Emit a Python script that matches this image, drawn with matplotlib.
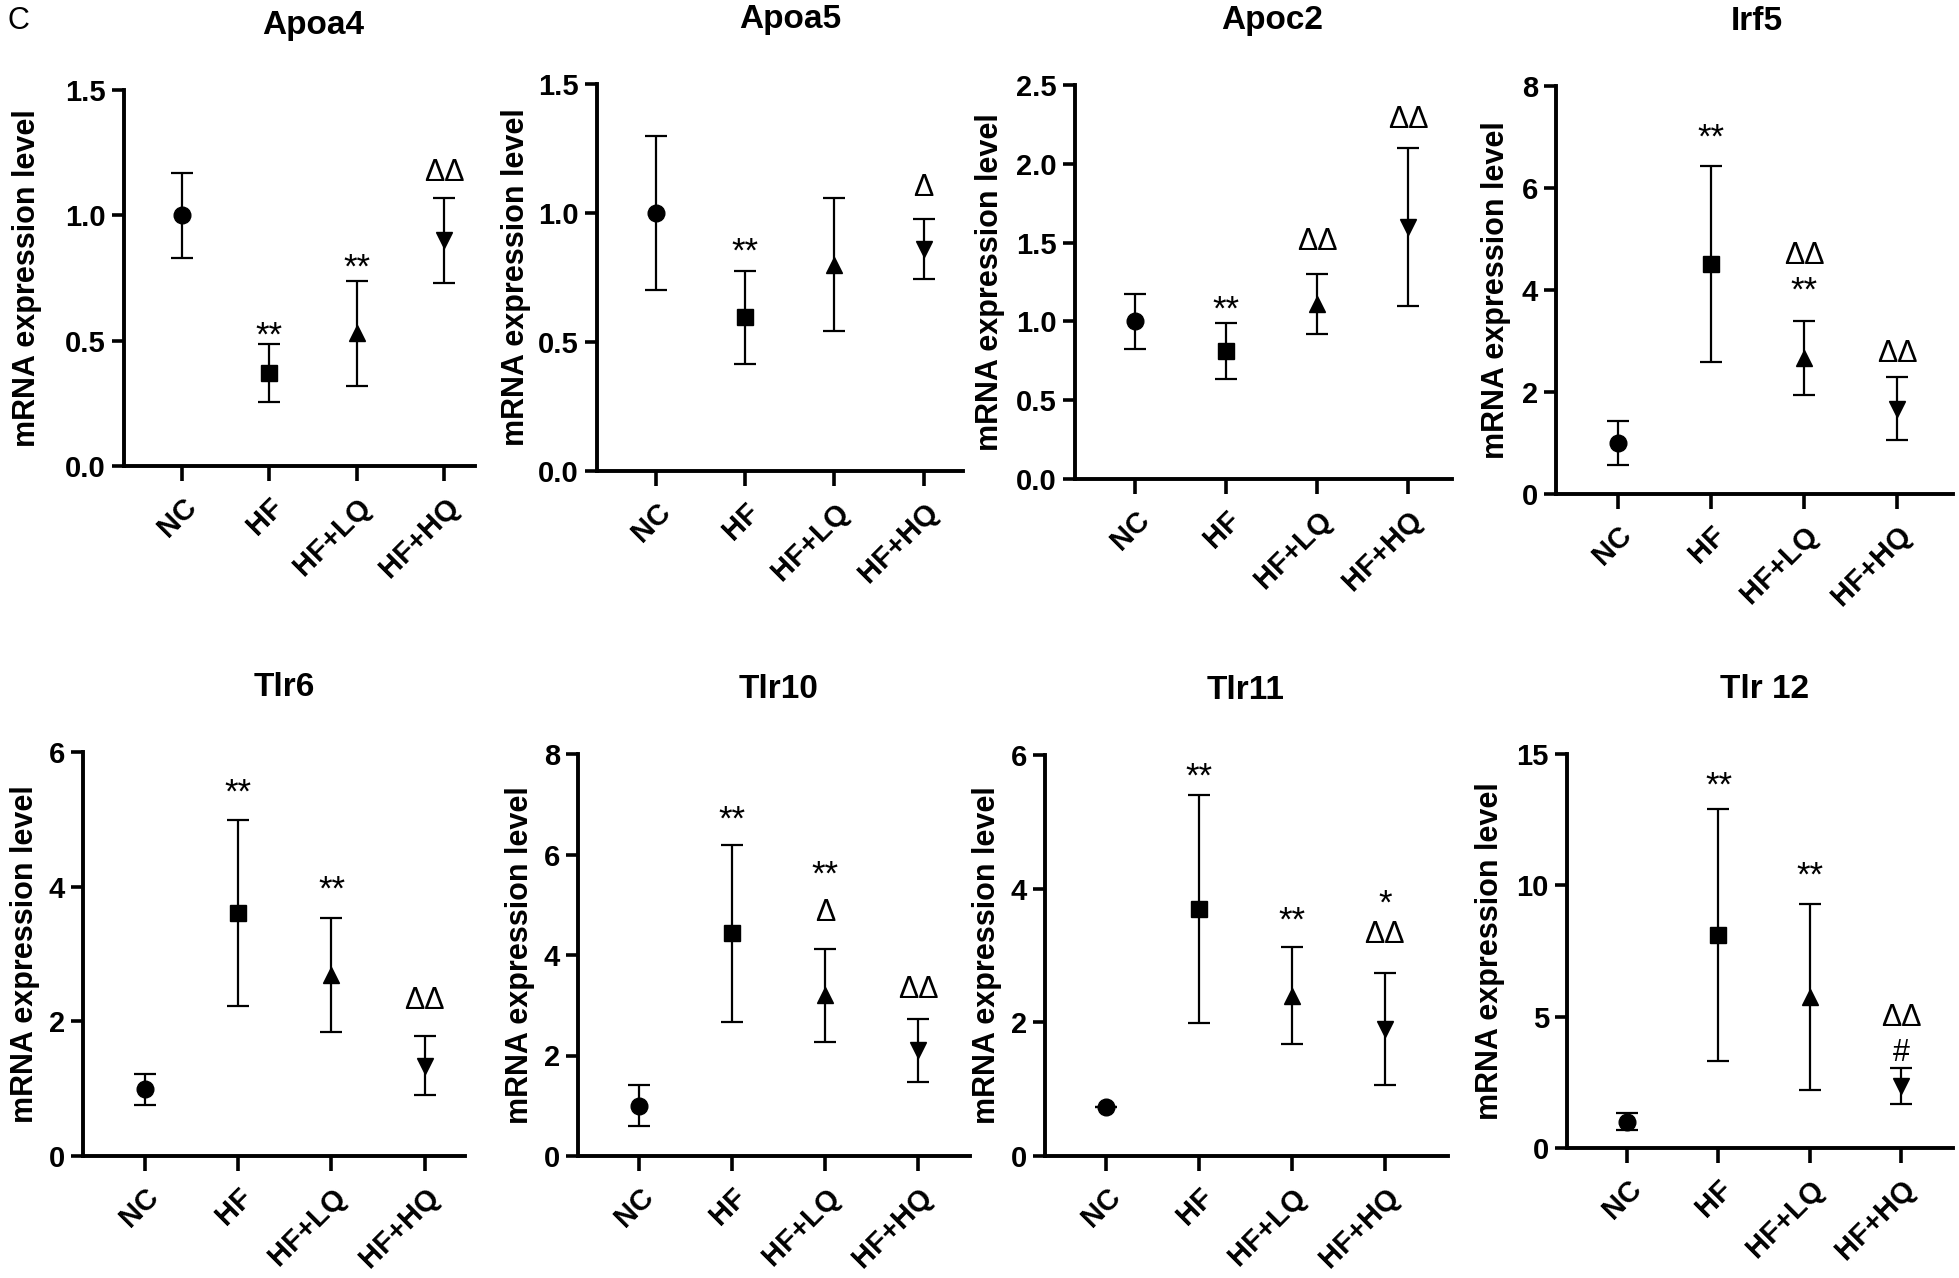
import matplotlib
matplotlib.use('Agg')
from matplotlib import pyplot as plt

plt.rcParams['font.family'] = ['Liberation Sans', 'DejaVu Sans']

groups = ['NC', 'HF', 'HF+LQ', 'HF+HQ']
markers = ['o', 's', '^', 'v']

genes = ['Apoa4', 'Apoa5', 'Apoc2', 'Irf5', 'Tlr6', 'Tlr10', 'Tlr11', 'Tlr 12']

# mean and SD
apoa4_mean = [1.0, 0.37, 0.53, 0.90]
apoa4_sd = [0.17, 0.115, 0.21, 0.17]
apoa5_mean = [1.0, 0.595, 0.80, 0.862]
apoa5_sd = [0.30, 0.18, 0.257, 0.116]
apoc2_mean = [1.0, 0.815, 1.11, 1.60]
apoc2_sd = [0.177, 0.178, 0.19, 0.50]
irf5_mean = [1.0, 4.51, 2.67, 1.67]
irf5_sd = [0.43, 1.93, 0.73, 0.615]
tlr6_mean = [0.99, 3.61, 2.69, 1.34]
tlr6_sd = [0.23, 1.38, 0.85, 0.44]
tlr10_mean = [1.0, 4.43, 3.2, 2.1]
tlr10_sd = [0.41, 1.755, 0.925, 0.62]
tlr11_mean = [0.73, 3.7, 2.4, 1.9]
tlr11_sd = [0.0, 1.705, 0.72, 0.845]
tlr12_mean = [1.0, 8.1, 5.75, 2.35]
tlr12_sd = [0.33, 4.79, 3.545, 0.69]

# significance marks: (group index, text, height in data units)
apoa4_sig = [(1, '**', 0.56), (2, '**', 0.83), (3, 'ΔΔ', 1.18)]
apoa5_sig = [(1, '**', 0.89), (3, 'Δ', 1.11)]
apoc2_sig = [(1, '**', 1.14), (2, 'ΔΔ', 1.52), (3, 'ΔΔ', 2.30)]
irf5_sig = [(1, '**', 7.18), (2, 'ΔΔ', 4.72), (2, '**', 4.18), (3, 'ΔΔ', 2.81)]
tlr6_sig = [(1, '**', 5.55), (2, '**', 4.1), (3, 'ΔΔ', 2.34)]
tlr10_sig = [(1, '**', 6.9), (2, '**', 5.8), (2, 'Δ', 4.89), (3, 'ΔΔ', 3.36)]
tlr11_sig = [(1, '**', 5.83), (2, '**', 3.67), (3, '*', 3.93), (3, 'ΔΔ', 3.35)]
tlr12_sig = [(1, '**', 14.2), (2, '**', 10.76), (3, 'ΔΔ', 5.06), (3, '#', 3.73)]

means = [apoa4_mean, apoa5_mean, apoc2_mean, irf5_mean, tlr6_mean, tlr10_mean, tlr11_mean, tlr12_mean]
sds = [apoa4_sd, apoa5_sd, apoc2_sd, irf5_sd, tlr6_sd, tlr10_sd, tlr11_sd, tlr12_sd]
sigs = [apoa4_sig, apoa5_sig, apoc2_sig, irf5_sig, tlr6_sig, tlr10_sig, tlr11_sig, tlr12_sig]

yticks = [[0, 0.5, 1.0, 1.5], [0, 0.5, 1.0, 1.5], [0, 0.5, 1.0, 1.5, 2.0, 2.5], [0, 2, 4, 6, 8],
          [0, 2, 4, 6], [0, 2, 4, 6, 8], [0, 2, 4, 6], [0, 5, 10, 15]]
yfmt = ['%.1f', '%.1f', '%.1f', '%d', '%d', '%d', '%d', '%d']

# axes boxes in pixels: left, right, top, bottom
W, H = 1959, 1278
boxes = [(124, 475, 90, 466), (597, 963, 84, 471), (1075, 1452, 85, 479), (1556, 1953, 86, 494),
         (83, 465, 752, 1156), (578, 970, 754, 1156), (1045, 1448, 755, 1156), (1567, 1953, 754, 1148)]
xright = [3.35, 3.44, 3.48, 3.60, 3.43, 3.56, 3.68, 3.57]
ypads = [17, 5, 8, 8, 6, 6, 6, 8]

fig = plt.figure(figsize=(W / 100, H / 100), dpi=100)

for k in range(8):
    l, r, t, b = boxes[k]
    ax = fig.add_axes([l / W, 1 - b / H, (r - l) / W, (b - t) / H])
    for i in range(4):
        ax.errorbar(i, means[k][i], yerr=sds[k][i], fmt=markers[i], color='black', ms=12,
                    elinewidth=1.6, capsize=8, capthick=1.6)
    ax.set_xlim(-0.66, xright[k])
    ax.set_ylim(0, yticks[k][-1])
    ax.spines['top'].set_visible(False)
    ax.spines['right'].set_visible(False)
    ax.spines['left'].set_linewidth(2.8)
    ax.spines['bottom'].set_linewidth(2.8)
    ax.set_xticks(range(4))
    ax.set_xticklabels(groups, rotation=45, ha='right', rotation_mode='anchor',
                       fontweight='bold', fontsize=21)
    ax.set_yticks(yticks[k])
    ax.set_yticklabels([yfmt[k] % v for v in yticks[k]], fontweight='bold', fontsize=21)
    ax.tick_params(axis='both', width=2.6, length=9, pad=4)
    ax.tick_params(axis='x', length=11, pad=8)
    ax.set_ylabel('mRNA expression level', fontsize=22, fontweight='bold', labelpad=ypads[k])
    ax.annotate(genes[k], xy=(1.5, 1), xycoords=('data', 'axes fraction'), xytext=(0, 40),
                textcoords='offset points', ha='center', va='baseline',
                fontsize=24, fontweight='bold')
    for i, txt, y in sigs[k]:
        if '*' in txt:
            fs, off = 25, 0.58
        else:
            fs, off = 22, 0.36
        ax.annotate(txt, xy=(i, y), xytext=(0, -off * fs), textcoords='offset points',
                    ha='center', va='baseline', fontsize=fs)

fig.text(0.004, 0.995, 'C', fontsize=22, ha='left', va='top')

fig.savefig('out.png', dpi=100)
